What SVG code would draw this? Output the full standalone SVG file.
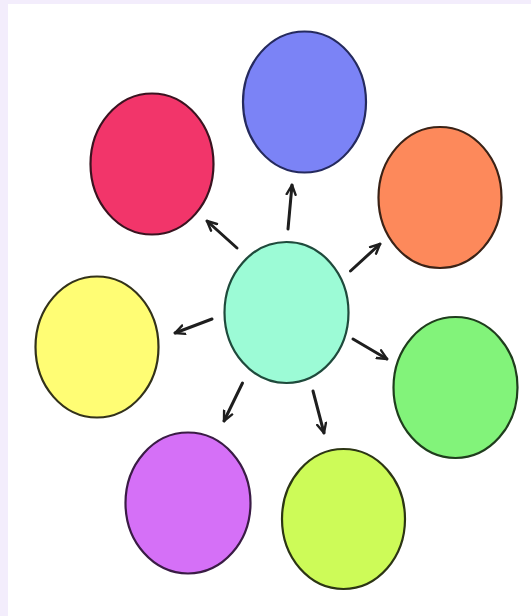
<svg xmlns="http://www.w3.org/2000/svg" width="531" height="616" viewBox="0 0 531 616">
<defs>
<style>
.n{stroke-width:2.2}
.c{stroke:#1e1e1e;stroke-width:3;fill:none;stroke-linecap:round}
</style>
<marker id="ah" viewBox="0 0 12 12" refX="10.5" refY="6" markerWidth="4" markerHeight="4" orient="auto" markerUnits="strokeWidth">
<path d="M1,1.5 L10.5,6 L1,10.5" fill="none" stroke="#1e1e1e" stroke-width="2.4" stroke-linecap="round" stroke-linejoin="round"/>
</marker>
</defs>
<rect x="0" y="0" width="531" height="616" fill="#ffffff"/>
<rect x="0" y="0" width="531" height="4" fill="#f3edfc"/>
<rect x="0" y="0" width="8" height="616" fill="#f3edfc"/>
<g id="node-blue"><ellipse class="n" cx="304.5" cy="102" rx="61.5" ry="70.5" fill="#7b83f6" stroke="#252a5e"/></g>
<g id="node-red"><ellipse class="n" cx="152" cy="164" rx="61.5" ry="70.5" fill="#f2356a" stroke="#3a1320"/></g>
<g id="node-orange"><ellipse class="n" cx="440" cy="197.5" rx="61.5" ry="70.5" fill="#fd895b" stroke="#3a2216"/></g>
<g id="node-yellow"><ellipse class="n" cx="97" cy="347" rx="61.5" ry="70.5" fill="#fffd74" stroke="#33321a"/></g>
<g id="node-center"><ellipse class="n" cx="286.5" cy="312.5" rx="62" ry="70.5" fill="#9cfbd6" stroke="#1f4a3c"/></g>
<g id="node-green"><ellipse class="n" cx="455.5" cy="387.5" rx="62" ry="70.5" fill="#82f37a" stroke="#1f3d1d"/></g>
<g id="node-purple"><ellipse class="n" cx="188" cy="503" rx="62.5" ry="70.5" fill="#d570f7" stroke="#3a1c45"/></g>
<g id="node-lime"><ellipse class="n" cx="343.5" cy="519" rx="61.5" ry="70" fill="#cdfb58" stroke="#2c3514"/></g>
<g id="connectors">
<line class="c" x1="237" y1="248" x2="207" y2="221" marker-end="url(#ah)"/>
<line class="c" x1="288" y1="229" x2="292" y2="185" marker-end="url(#ah)"/>
<line class="c" x1="350.5" y1="271" x2="380" y2="244" marker-end="url(#ah)"/>
<line class="c" x1="212" y1="319" x2="175" y2="333" marker-end="url(#ah)"/>
<line class="c" x1="353" y1="339" x2="387" y2="359" marker-end="url(#ah)"/>
<line class="c" x1="242.5" y1="383" x2="224" y2="421" marker-end="url(#ah)"/>
<line class="c" x1="313" y1="391" x2="324" y2="433" marker-end="url(#ah)"/>
</g>
</svg>
